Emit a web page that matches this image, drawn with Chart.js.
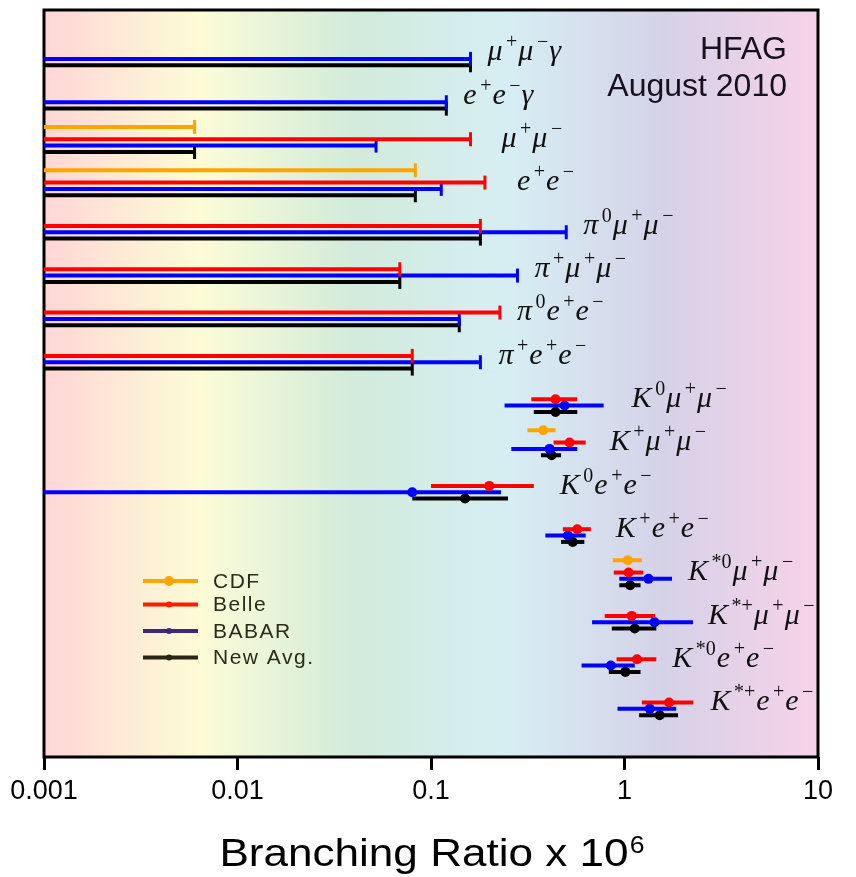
<!DOCTYPE html>
<html>
<head>
<meta charset="utf-8">
<script src="https://cdn.jsdelivr.net/npm/chart.js@4/dist/chart.umd.min.js"></script>
<style>
  html, body { margin: 0; padding: 0; background: #fff; }
  canvas { display: block; }
</style>
</head>
<body>
<canvas id="c" width="856" height="877"></canvas>
<script>
// B -> X l+l- rare decays, branching ratios in units of 10^-6.
// Superscripts are written as ^{...}.
const modes = [
  'μ^{+}μ^{−}γ', 'e^{+}e^{−}γ', 'μ^{+}μ^{−}', 'e^{+}e^{−}',
  'π^{0}μ^{+}μ^{−}', 'π^{+}μ^{+}μ^{−}', 'π^{0}e^{+}e^{−}', 'π^{+}e^{+}e^{−}',
  'K^{0}μ^{+}μ^{−}', 'K^{+}μ^{+}μ^{−}', 'K^{0}e^{+}e^{−}', 'K^{+}e^{+}e^{−}',
  'K^{*0}μ^{+}μ^{−}', 'K^{*+}μ^{+}μ^{−}', 'K^{*0}e^{+}e^{−}', 'K^{*+}e^{+}e^{−}'
];
const _ = null;

// 90% CL upper limits
const cdfLimit   = [_, _, 0.006, 0.083, _, _, _, _, _, _, _, _, _, _, _, _];
const belleLimit = [_, _, 0.16, 0.19, 0.18, 0.069, 0.227, 0.08, _, _, _, _, _, _, _, _];
const babarLimit = [0.16, 0.12, 0.052, 0.113, 0.50, 0.28, 0.14, 0.18, _, _, _, _, _, _, _, _];
const avgLimit   = [0.16, 0.12, 0.006, 0.083, 0.18, 0.069, 0.14, 0.08, _, _, _, _, _, _, _, _];

// Measurements: central value, +error, -error
const cdfValue   = [_, _, _, _, _, _, _, _, _, 0.38, _, _, 1.04, _, _, _];
const cdfPlus    = [_, _, _, _, _, _, _, _, _, 0.06, _, _, 0.19, _, _, _];
const cdfMinus   = [_, _, _, _, _, _, _, _, _, 0.065, _, _, 0.17, _, _, _];

const belleValue = [_, _, _, _, _, _, _, _, 0.44, 0.52, 0.20, 0.57, 1.05, 1.09, 1.16, 1.70];
const bellePlus  = [_, _, _, _, _, _, _, _, 0.13, 0.11, 0.14, 0.10, 0.20, 0.35, 0.30, 0.57];
const belleMinus = [_, _, _, _, _, _, _, _, 0.11, 0.09, 0.10, 0.09, 0.17, 0.30, 0.25, 0.47];

const babarValue = [_, _, _, _, _, _, _, _, 0.49, 0.41, 0.08, 0.51, 1.33, 1.43, 0.85, 1.35];
const babarPlus  = [_, _, _, _, _, _, _, _, 0.29, 0.16, 0.15, 0.12, 0.43, 0.83, 0.28, 0.50];
const babarMinus = [_, _, _, _, _, _, _, _, 0.25, 0.15, 0.12, 0.12, 0.39, 0.75, 0.25, 0.43];

const avgValue   = [_, _, _, _, _, _, _, _, 0.44, 0.42, 0.15, 0.54, 1.07, 1.13, 1.01, 1.52];
const avgPlus    = [_, _, _, _, _, _, _, _, 0.13, 0.05, 0.10, 0.08, 0.14, 0.33, 0.20, 0.37];
const avgMinus   = [_, _, _, _, _, _, _, _, 0.10, 0.05, 0.07, 0.07, 0.13, 0.27, 0.18, 0.33];

const tickValues = [0.001, 0.01, 0.1, 1, 10];

// ---- layout / style ----
const xMin = 0.001, xMax = 10;
const labelPad = [17, 17, 31, 32, 17, 17, 17, 18, 28, 24, 26, 25, 16, 15, 16, 17];
const experiments = [
  { name: 'CDF',      color: '#ffa500', legendColor: '#ffa500', dot: 5,   shift: -0.577,
    limit: cdfLimit, value: cdfValue, plus: cdfPlus, minus: cdfMinus },
  { name: 'Belle',    color: '#ff0000', legendColor: '#ff1a00', dot: 3,   shift: -0.293,
    limit: belleLimit, value: belleValue, plus: bellePlus, minus: belleMinus },
  { name: 'BABAR',    color: '#0000ff', legendColor: '#3b2a78', dot: 3,   shift: -0.147,
    limit: babarLimit, value: babarValue, plus: babarPlus, minus: babarMinus },
  { name: 'New Avg.', color: '#000000', legendColor: '#2a2414', dot: 3,   shift: 0,
    limit: avgLimit, value: avgValue, plus: avgPlus, minus: avgMinus }
];

const datasets = [];
experiments.forEach(e => {
  modes.forEach((m, i) => {
    const y = i + e.shift;
    if (e.limit[i] != null) {
      datasets.push({
        data: [{ x: xMin, y }, { x: e.limit[i], y }],
        showLine: true, borderColor: e.color, borderWidth: 4, borderCapStyle: 'butt',
        pointRadius: [0, 7], pointStyle: 'line', pointRotation: 90,
        pointBorderColor: e.color, pointBorderWidth: 3, pointBackgroundColor: e.color
      });
    }
    if (e.value[i] != null) {
      const v = e.value[i];
      datasets.push({
        data: [{ x: Math.max(v - e.minus[i], xMin), y }, { x: v, y }, { x: v + e.plus[i], y }],
        showLine: true, borderColor: e.color, borderWidth: 4, borderCapStyle: 'butt',
        pointRadius: [0, 5, 0], pointStyle: 'circle',
        pointBackgroundColor: e.color, pointBorderWidth: 0
      });
    }
  });
});

// rightmost extent of each row, used to place its label
const rowEnd = modes.map((m, i) => Math.max(...experiments.map(e => {
  if (e.limit[i] != null) return e.limit[i];
  if (e.value[i] != null) return e.value[i] + e.plus[i];
  return 0;
})));

function drawMath(ctx, str, x, baseline) {
  const parts = str.split(/(\^\{[^}]*\})/).filter(Boolean);
  parts.forEach(p => {
    if (p.startsWith('^{')) {
      const t = p.slice(2, -1);
      ctx.font = '20px "Liberation Serif"';
      x += 2;
      ctx.fillText(t, x, baseline - 12);
      x += ctx.measureText(t).width + 1;
    } else {
      for (const ch of p) {
        ctx.font = 'italic 30px "Liberation Serif"';
        ctx.fillText(ch, x, baseline);
        x += ctx.measureText(ch).width + 1.5;
      }
    }
  });
}

const decor = {
  id: 'decor',
  beforeDraw(chart) {
    const { ctx, chartArea: a } = chart;
    const g = ctx.createLinearGradient(a.left, 0, a.right, 0);
    g.addColorStop(0.0, '#ffd6d6');
    g.addColorStop(0.2, '#fcfcd6');
    g.addColorStop(0.4, '#d2ebdb');
    g.addColorStop(0.6, '#d6eef3');
    g.addColorStop(0.8, '#d5d2e8');
    g.addColorStop(1.0, '#f7d2e8');
    ctx.save();
    ctx.fillStyle = g;
    ctx.fillRect(a.left, a.top, a.right - a.left, a.bottom - a.top);
    ctx.restore();
  },
  beforeDatasetsDraw(chart) {
    const { ctx, chartArea: a } = chart;
    ctx.save();
    ctx.strokeStyle = '#000';
    ctx.lineWidth = 3;
    ctx.strokeRect(a.left, a.top, a.right - a.left, a.bottom - a.top);
    ctx.restore();
  },
  afterDraw(chart) {
    const { ctx, chartArea: a, scales: { x, y } } = chart;
    ctx.save();
    // mode labels
    ctx.fillStyle = '#111';
    ctx.textBaseline = 'alphabetic';
    ctx.textAlign = 'left';
    modes.forEach((m, i) => {
      drawMath(ctx, m, x.getPixelForValue(rowEnd[i]) + labelPad[i], y.getPixelForValue(i) - 5);
    });

    // stamp
    ctx.fillStyle = '#17111f';
    ctx.textAlign = 'right';
    ctx.font = '32px "Liberation Sans"';
    ctx.fillText('HFAG', a.right - 31, a.top + 49);
    ctx.fillText('August 2010', a.right - 31, a.top + 86);

    // legend
    ctx.textAlign = 'left';
    ctx.textBaseline = 'middle';
    const ly = [581, 604.5, 631, 657.5];
    experiments.forEach((e, k) => {
      const yy = ly[k];
      ctx.strokeStyle = e.legendColor;
      ctx.lineWidth = 4;
      ctx.beginPath();
      ctx.moveTo(a.left + 99, yy);
      ctx.lineTo(a.left + 154, yy);
      ctx.stroke();
      ctx.fillStyle = e.legendColor;
      ctx.beginPath();
      ctx.arc(a.left + 125, yy, e.dot, 0, Math.PI * 2);
      ctx.fill();
      ctx.fillStyle = '#2b2b1c';
      ctx.font = '21px "Liberation Sans"';
      ctx.letterSpacing = '1.5px';
      ctx.fillText(e.name, a.left + 169, yy + 1);
      ctx.letterSpacing = '0px';
    });

    // axis title
    ctx.fillStyle = '#000';
    ctx.textBaseline = 'alphabetic';
    const main = 'Branching Ratio x 10', sup = '6';
    ctx.font = '38px "Liberation Sans"';
    const w1 = ctx.measureText(main).width;
    ctx.font = '23px "Liberation Sans"';
    const w2 = ctx.measureText(sup).width;
    const sx = 1.16;
    const cx = (a.left + a.right) / 2 + 1;
    ctx.translate(cx, 0);
    ctx.scale(sx, 1);
    const x0 = -(w1 + w2 + 1) / 2;
    ctx.font = '38px "Liberation Sans"';
    ctx.textAlign = 'left';
    ctx.fillText(main, x0, 866);
    ctx.font = '23px "Liberation Sans"';
    ctx.fillText(sup, x0 + w1 + 1, 853);
    ctx.restore();
  }
};

new Chart(document.getElementById('c'), {
  type: 'scatter',
  data: { datasets },
  options: {
    responsive: false,
    animation: false,
    events: [],
    layout: { padding: { left: 44, right: 38, top: 10, bottom: 0 } },
    plugins: { legend: { display: false }, tooltip: { enabled: false } },
    scales: {
      x: {
        type: 'logarithmic',
        min: xMin, max: xMax,
        afterBuildTicks: s => { s.ticks = tickValues.map(v => ({ value: v })); },
        afterFit: s => { s.height = 120; },
        border: { display: false },
        grid: { drawOnChartArea: false, drawTicks: true, tickLength: 13, tickWidth: 3, tickColor: '#000' },
        ticks: {
          autoSkip: false, maxRotation: 0, padding: 5, color: '#000',
          font: { family: 'Liberation Sans', size: 27 },
          callback: v => String(v)
        }
      },
      y: { type: 'linear', display: false, reverse: true, min: -1.276, max: 15.964 }
    }
  },
  plugins: [decor]
});
</script>
</body>
</html>
